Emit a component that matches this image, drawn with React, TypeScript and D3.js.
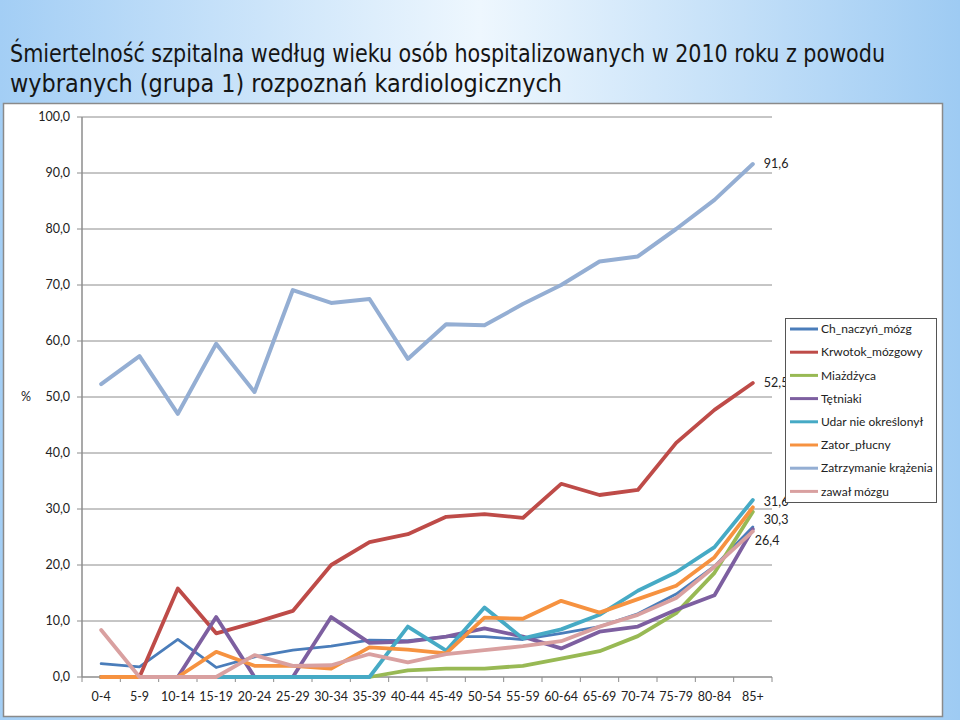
import React from "react";
import * as d3 from "d3";

// age groups on the x axis
const ageGroups = [
  "0-4", "5-9", "10-14", "15-19", "20-24", "25-29", "30-34", "35-39", "40-44",
  "45-49", "50-54", "55-59", "60-64", "65-69", "70-74", "75-79", "80-84", "85+",
];

const yTicks = [0, 10, 20, 30, 40, 50, 60, 70, 80, 90, 100];

// mortality in % per age group
const chNaczynMozg = [2.4, 1.8, 6.7, 1.7, 3.6, 4.8, 5.5, 6.6, 6.5, 7.2, 7.2, 6.7, 7.8, 9.0, 11.3, 14.8, 19.8, 26.8];
const krwotokMozgowy = [0, 0, 15.8, 7.8, 9.7, 11.8, 20.0, 24.1, 25.5, 28.6, 29.1, 28.4, 34.5, 32.5, 33.4, 41.8, 47.7, 52.5];
const miazdzyca = [0, 0, 0, 0, 0, 0, 0, 0, 1.2, 1.5, 1.5, 2.0, 3.3, 4.6, 7.3, 11.4, 18.6, 29.5];
const tetniaki = [0, 0, 0, 10.7, 0, 0, 10.7, 6.1, 6.3, 7.2, 8.7, 7.2, 5.1, 8.1, 9.0, 12.0, 14.6, 26.4];
const udarNieokreslony = [0, 0, 0, 0, 0, 0, 0, 0, 9.0, 4.7, 12.4, 6.9, 8.5, 11.1, 15.4, 18.7, 23.2, 31.6];
const zatorPlucny = [0, 0, 0, 4.5, 2.0, 2.0, 1.5, 5.3, 4.9, 4.2, 10.6, 10.4, 13.6, 11.5, 13.9, 16.3, 21.4, 30.3];
const zatrzymanieKrazenia = [52.3, 57.3, 47.0, 59.5, 50.9, 69.1, 66.8, 67.5, 56.8, 63.0, 62.8, 66.6, 70.0, 74.2, 75.1, 80.0, 85.2, 91.6];
const zawalMozgu = [8.4, 0, 0, 0, 3.9, 2.0, 2.1, 4.1, 2.6, 4.1, 4.8, 5.5, 6.4, 9.0, 11.1, 14.1, 19.7, 26.0];

const series = [
  { name: "Ch_naczyń_mózg", values: chNaczynMozg, color: "#4A7DBA", width: 2.8, label: false },
  { name: "Krwotok_mózgowy", values: krwotokMozgowy, color: "#BE4B48", width: 3.8, label: true },
  { name: "Miażdżyca", values: miazdzyca, color: "#98B954", width: 3.8, label: false },
  { name: "Tętniaki", values: tetniaki, color: "#7D5FA0", width: 3.8, label: true },
  { name: "Udar nie określonył", values: udarNieokreslony, color: "#46AAC5", width: 3.8, label: true },
  { name: "Zator_płucny", values: zatorPlucny, color: "#F69240", width: 3.8, label: true },
  { name: "Zatrzymanie krążenia", values: zatrzymanieKrazenia, color: "#94AED3", width: 4, label: true },
  { name: "zawał mózgu", values: zawalMozgu, color: "#D9A0A0", width: 3.8, label: false },
];

const fmt = (v: number) => v.toFixed(1).replace(".", ",");

export default function App() {
  const W = 960, H = 720;
  const left = 82, right = 772, top = 117, bottom = 677;

  const x = d3.scaleBand().domain(ageGroups).range([left, right]);
  const y = d3.scaleLinear().domain([0, 100]).range([bottom, top]);
  const cx = (g: string) => (x(g) as number) + x.bandwidth() / 2;

  const line = d3
    .line<number>()
    .x((_, i) => cx(ageGroups[i]))
    .y((d) => y(d));

  const font = "Lato, 'Open Sans', sans-serif";
  const titleFont = "'DejaVu Sans Condensed', 'DejaVu Sans', sans-serif";
  const lastIdx = ageGroups.length - 1;
  // small nudges so the end labels don't overlap
  const labelDy: Record<string, number> = {
    "Zatrzymanie krążenia": 0,
    "Krwotok_mózgowy": 0,
    "Udar nie określonył": 2,
    "Zator_płucny": 12,
    "Tętniaki": 11,
  };
  const labelDx: Record<string, number> = { "Tętniaki": -9 };

  return (
    <svg width={W} height={H} style={{ position: "absolute", left: 0, top: 0 }}>
      <defs>
        <linearGradient id="bg" x1="0" x2="1" y1="0" y2="0">
          <stop offset="0" stopColor="#A3CEF5" />
          <stop offset="0.5" stopColor="#EEF7FE" />
          <stop offset="1" stopColor="#9ECBF3" />
        </linearGradient>
      </defs>
      <rect x={0} y={0} width={W} height={H} fill="url(#bg)" />
      <text x={10} y={62} fontFamily={titleFont} fontSize={25} fill="#151515"
        textLength={875} lengthAdjust="spacingAndGlyphs">
        Śmiertelność szpitalna według wieku osób hospitalizowanych w 2010 roku z powodu
      </text>
      <text x={10} y={92} fontFamily={titleFont} fontSize={25} fill="#151515"
        textLength={552} lengthAdjust="spacingAndGlyphs">
        wybranych (grupa 1) rozpoznań kardiologicznych
      </text>

      <rect x={3.5} y={103.5} width={939} height={613} fill="#fff" stroke="#8a8a8a" strokeWidth={1.5} />

      {/* grid */}
      {yTicks.map((t) => (
        <g key={t}>
          {t > 0 && <line x1={left} x2={right} y1={y(t)} y2={y(t)} stroke="#8c8c8c" strokeWidth={1} />}
          <line x1={left - 5} x2={left} y1={y(t)} y2={y(t)} stroke="#8c8c8c" strokeWidth={1} />
          <text x={70} y={y(t)} dy="0.35em" textAnchor="end" fontFamily={font} fontSize={12.5} fill="#222">
            {fmt(t)}
          </text>
        </g>
      ))}
      <text x={26} y={y(50)} dy="0.35em" textAnchor="middle" fontFamily={font} fontSize={12.5} fill="#222">%</text>

      {/* axes */}
      <line x1={left} x2={left} y1={top} y2={bottom} stroke="#8c8c8c" strokeWidth={1.5} />
      <line x1={left} x2={right} y1={bottom} y2={bottom} stroke="#8c8c8c" strokeWidth={1.5} />
      {ageGroups.map((g) => (
        <line key={"t" + g} x1={x(g) as number} x2={x(g) as number} y1={bottom} y2={bottom + 5} stroke="#8c8c8c" />
      ))}
      <line x1={right} x2={right} y1={bottom} y2={bottom + 5} stroke="#8c8c8c" />
      {ageGroups.map((g) => (
        <text key={"l" + g} x={cx(g)} y={697} dy="0.35em" textAnchor="middle" fontFamily={font} fontSize={12.5} fill="#222">
          {g}
        </text>
      ))}

      {/* series */}
      {series.map((s) => (
        <path key={s.name} d={line(s.values) || ""} fill="none" stroke={s.color} strokeWidth={s.width}
          strokeLinejoin="round" strokeLinecap="round" />
      ))}
      {series.filter((s) => s.label).map((s) => (
        <text key={"v" + s.name} x={cx(ageGroups[lastIdx]) + 11 + (labelDx[s.name] || 0)}
          y={y(s.values[lastIdx]) + (labelDy[s.name] || 0)} dy="0.35em"
          fontFamily={font} fontSize={12.5} fill="#222">
          {fmt(s.values[lastIdx])}
        </text>
      ))}

      {/* legend */}
      <rect x={785.5} y={318.5} width={151} height={184} fill="#fff" stroke="#555" strokeWidth={1} />
      {series.map((s, i) => {
        const ly = 329 + i * 23.2;
        return (
          <g key={"lg" + s.name}>
            <line x1={790} x2={818} y1={ly} y2={ly} stroke={s.color} strokeWidth={3} />
            <text x={821} y={ly} dy="0.35em" fontFamily={font} fontSize={12} fill="#222">{s.name}</text>
          </g>
        );
      })}
    </svg>
  );
}
